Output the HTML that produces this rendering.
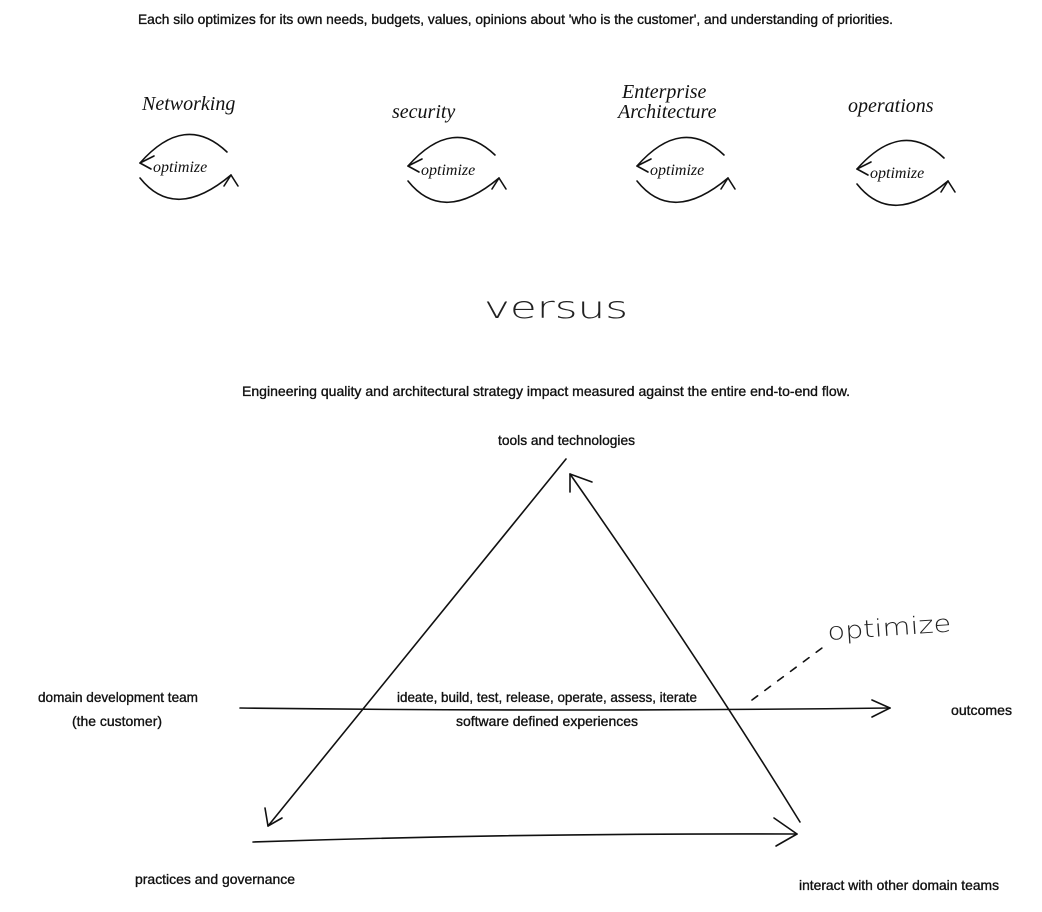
<!DOCTYPE html>
<html><head><meta charset="utf-8"><style>
html,body{margin:0;padding:0;background:#fff;}
svg{display:block}
text{font-family:"Liberation Sans Narrow","Liberation Sans",sans-serif;fill:#111;}
.t{font-size:14px;stroke:#111;stroke-width:0.35px;}
.h{font-family:"Liberation Serif",serif;font-style:italic;font-size:20px;}
.o{font-family:"Liberation Serif",serif;font-style:italic;font-size:16px;}
</style></head><body>
<svg width="1042" height="912" viewBox="0 0 1042 912" xmlns="http://www.w3.org/2000/svg">
<defs>
<g id="loop" fill="none" stroke="#111" stroke-width="1.6" stroke-linecap="round">
<path d="M140 163 Q185 112 227 152"/>
<path d="M140 163 L154 156 M140 163 L151 169"/>
<path d="M140 178 Q175 222 231 175"/>
<path d="M231 175 L224 186 M231 175 L238 186"/>
</g>
</defs>
<text class="t" x="138" y="24" textLength="755" lengthAdjust="spacingAndGlyphs">Each silo optimizes for its own needs, budgets, values,  opinions about 'who is the customer', and understanding of priorities.</text>

<use href="#loop"/>
<text class="o" x="153" y="172">optimize</text>
<text class="h" x="142" y="110">Networking</text>

<use href="#loop" transform="translate(268,3)"/>
<text class="o" x="421" y="175">optimize</text>
<text class="h" x="392" y="118">security</text>

<use href="#loop" transform="translate(497,3)"/>
<text class="o" x="650" y="175">optimize</text>
<text class="h" x="622" y="98">Enterprise</text>
<text class="h" x="618" y="118">Architecture</text>

<use href="#loop" transform="translate(717,6)"/>
<text class="o" x="870" y="178">optimize</text>
<text class="h" x="848" y="112">operations</text>

<text x="484" y="318" textLength="144" lengthAdjust="spacingAndGlyphs" style="font-family:'DejaVu Sans',sans-serif;font-weight:200;font-size:30px;fill:#222">versus</text>

<text class="t" x="242" y="396" textLength="608" lengthAdjust="spacingAndGlyphs">Engineering quality and architectural strategy impact measured against the entire end-to-end flow.</text>
<text class="t" x="498" y="445" textLength="137" lengthAdjust="spacingAndGlyphs">tools and technologies</text>
<text class="t" x="38" y="702" textLength="160" lengthAdjust="spacingAndGlyphs">domain development team</text>
<text class="t" x="72" y="726" textLength="90" lengthAdjust="spacingAndGlyphs">(the customer)</text>
<text class="t" x="397" y="702" textLength="300" lengthAdjust="spacingAndGlyphs">ideate, build, test, release, operate, assess, iterate</text>
<text class="t" x="456" y="726" textLength="182" lengthAdjust="spacingAndGlyphs">software defined experiences</text>
<text class="t" x="951" y="715" textLength="61" lengthAdjust="spacingAndGlyphs">outcomes</text>
<text class="t" x="135" y="884" textLength="160" lengthAdjust="spacingAndGlyphs">practices and governance</text>
<text class="t" x="799" y="890" textLength="200" lengthAdjust="spacingAndGlyphs">interact with other domain teams</text>
<text x="828" y="640" transform="rotate(-4 828 640)" textLength="124" lengthAdjust="spacingAndGlyphs" style="font-family:'DejaVu Sans',sans-serif;font-weight:200;font-size:24px;fill:#222">optimize</text>

<g fill="none" stroke="#111" stroke-width="1.6" stroke-linecap="round">
<path d="M566 459 Q420 640 268 826"/>
<path d="M268 826 L265 808 M268 826 L282 818"/>
<path d="M800 822 Q700 660 570 474"/>
<path d="M570 474 L570 492 M570 474 L592 482"/>
<path d="M253 842 Q520 833 797 834"/>
<path d="M797 834 L774 818 M797 834 L776 846"/>
<path d="M240 708 Q560 712 890 708"/>
<path d="M890 708 L872 700 M890 708 L872 717"/>
<path d="M752 700 L822 648" stroke-dasharray="7 9"/>
</g>
</svg>
</body></html>
